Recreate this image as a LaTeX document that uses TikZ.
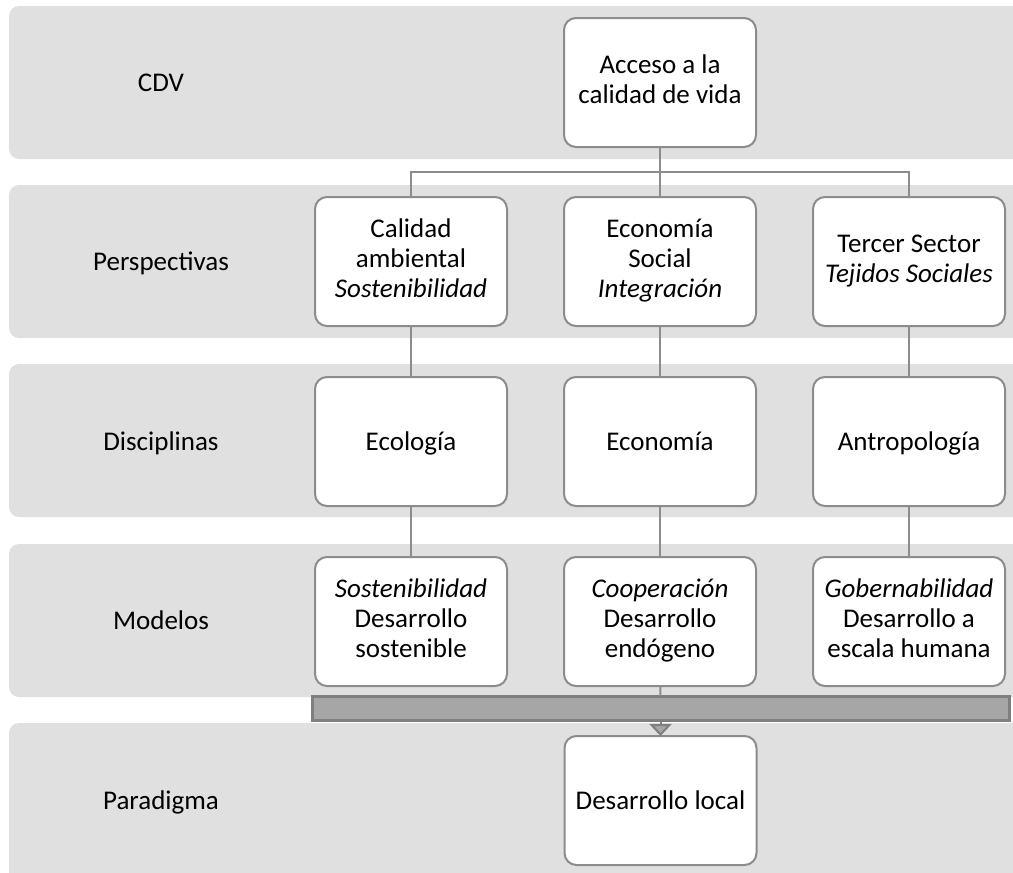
\documentclass[tikz,border=0pt]{standalone}
\usepackage{fontspec}
\setmainfont{Carlito}
\usetikzlibrary{arrows.meta, positioning}
\definecolor{bandgray}{HTML}{E0E0E0}
\definecolor{linegray}{HTML}{8C8C8C}
\definecolor{bargray}{HTML}{A6A6A6}
\definecolor{barline}{HTML}{7F7F7F}

\begin{document}
\begin{tikzpicture}[
    x=0.5pt, y=-0.5pt,
    node distance=25.5pt and 28.5pt,
    band/.style={fill=bandgray, rounded corners=5pt},
    rowtitle/.style={align=center, font=\fontsize{13.5}{15}\selectfont, execute at begin node={\rule{0pt}{12pt}}, execute at end node={\rule[-3pt]{0pt}{3pt}}},
    box/.style={rectangle, draw=linegray, line width=1pt, fill=white, rounded corners=6pt, align=center, minimum width=96pt, minimum height=64.5pt, inner sep=2pt, outer sep=0pt, font=\fontsize{13.5}{15}\selectfont, execute at begin node={\rule{0pt}{12pt}}, execute at end node={\rule[-3pt]{0pt}{3pt}}},
    bar/.style={rectangle, draw=barline, line width=1.5pt, fill=bargray, minimum width=348.5pt, minimum height=12pt, inner sep=0pt, outer sep=0pt},
    link/.style={draw=linegray, line width=1pt},
    arrow/.style={-{Triangle[width=11pt,length=6pt,fill=bargray]}, draw=barline, line width=1pt}
    ]

\clip (0,0) rectangle (1013,873);

% Bands
\fill[band] (9,6) rectangle (1040,159);
\fill[band] (9,185) rectangle (1040,338);
\fill[band] (9,364) rectangle (1040,517);
\fill[band] (9,544) rectangle (1040,697);
\fill[band] (9,723) rectangle (1040,890);

% Row titles
\node[rowtitle] (cdv) at (161,82.5) {CDV};
\node[rowtitle] (perspectivas) at (161,261.5) {Perspectivas};
\node[rowtitle] (disciplinas) at (161,441) {Disciplinas};
\node[rowtitle] (modelos) at (161,620) {Modelos};
\node[rowtitle] (paradigma) at (161,800) {Paradigma};

% Nodes
\node[box] (acceso) at (660,82.5) {Acceso a la\\calidad de vida};

\node[box] (social) at (660,261.5) {Economía\\Social\\\textit{Integración}};
\node[box, left=of social] (ambiental) {Calidad\\ambiental\\\textit{Sostenibilidad}};
\node[box, right=of social] (tercer) {Tercer Sector\\\textit{Tejidos Sociales}};

\node[box, below=of ambiental] (ecologia) {Ecología};
\node[box, below=of social] (economia) {Economía};
\node[box, below=of tercer] (antropologia) {Antropología};

\node[box, below=of ecologia] (sostenible) {\textit{Sostenibilidad}\\Desarrollo\\sostenible};
\node[box, below=of economia] (endogeno) {\textit{Cooperación}\\Desarrollo\\endógeno};
\node[box, below=of antropologia] (humana) {\textit{Gobernabilidad}\\Desarrollo a\\escala humana};

\node[bar] (barra) at (660.5,708) {};
\node[box, below=8pt of barra] (local) {Desarrollo local};

% Connectors
\draw[link] (acceso) -- (social);
\draw[link] (ambiental.north) -- ++(0,-25) -| (tercer.north);
\draw[link] (ambiental) -- (ecologia);
\draw[link] (social) -- (economia);
\draw[link] (tercer) -- (antropologia);
\draw[link] (ecologia) -- (sostenible);
\draw[link] (economia) -- (endogeno);
\draw[link] (antropologia) -- (humana);
\draw[link] (endogeno) -- (barra);
\draw[arrow] (barra) -- (local);

\end{tikzpicture}
\end{document}
